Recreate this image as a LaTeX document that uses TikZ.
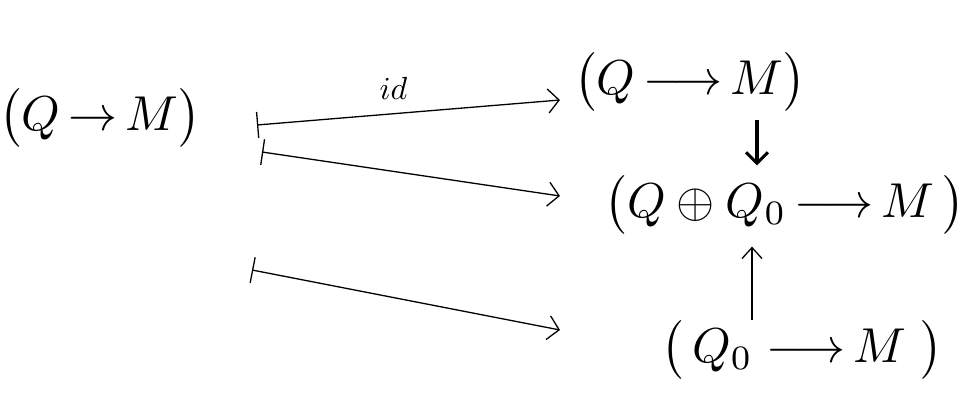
\documentclass[tikz,border=0pt]{standalone}
\usepackage{graphicx}
\usetikzlibrary{arrows.meta}
\newcommand{\obtext}[1]{\scalebox{4.9}{$#1$}}
\begin{document}
\begin{tikzpicture}[x=1pt,y=-1pt,
  obj/.style={inner sep=0pt},
  lbl/.style={inner sep=0pt},
  mapsto/.style={line width=1.3pt, {Bar[width=26pt,line width=1.3pt]}-{Straight Barb[length=11pt,width=24pt,line width=1.3pt]}},
  down/.style={line width=3.6pt, -{Straight Barb[length=11pt,width=22pt,line width=3pt]}},
  upar/.style={line width=1.3pt, -{Straight Barb[length=11pt,width=20pt,line width=1.3pt]}}]
\useasboundingbox (0,0) rectangle (971,401);
\node[obj] (L) at (100,118) {\obtext{\bigl(Q\,{\to}\,M\bigr)}};
\node[obj] (T) at (690,82) {\obtext{\bigl(Q\,{\longrightarrow}\,M\bigr)}};
\node[obj] (Mid) at (785,205) {\obtext{\bigl(Q\oplus Q_0\,{\longrightarrow}\,M\,\bigr)}};
\node[obj] (B) at (802,350) {\obtext{\bigl(\,Q_0\;{\longrightarrow}\,M\;\bigr)}};
\coordinate (s1) at (257,125);
\coordinate (e1) at (560,100);
\coordinate (s2) at (262,152);
\coordinate (e2) at (560,196);
\coordinate (s3) at (252,270);
\coordinate (e3) at (560,330);
\draw[mapsto] (s1) -- node[lbl, above=14pt, pos=0.45] (id) {\scalebox{3.2}{$id$}} (e1);
\draw[mapsto] (s2) -- (e2);
\draw[mapsto] (s3) -- (e3);
\draw[down, shorten <=8pt, shorten >=10pt] (T.south -| 757,0) -- (Mid.north -| 757,0);
\draw[upar, shorten >=12pt] (B.north -| 752,0) -- (Mid.south -| 752,0);
\end{tikzpicture}
\end{document}
